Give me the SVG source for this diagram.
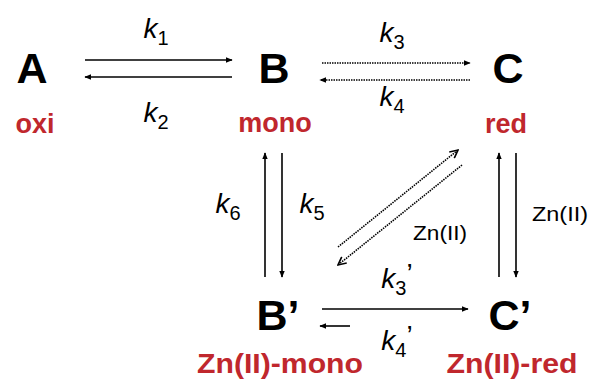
<svg xmlns="http://www.w3.org/2000/svg" width="591" height="379" viewBox="0 0 591 379">
<style>
.big{font-family:"Liberation Sans",Arial,sans-serif;font-weight:bold;font-size:43px;fill:#000;text-anchor:middle}
.lab{font-family:"Liberation Sans",Arial,sans-serif;font-weight:bold;font-size:27px;fill:#C0272D;text-anchor:middle}
.k{font-family:"Liberation Sans",Arial,sans-serif;font-size:28px;fill:#000;text-anchor:middle}
.kk{font-style:italic}
.sub{font-size:20px}
.zn{font-family:"Liberation Sans",Arial,sans-serif;font-size:20px;fill:#000;text-anchor:middle}
.ln{stroke:#000;stroke-width:1.6;fill:none}
.dot{stroke:#000;stroke-width:1.6;fill:none;stroke-dasharray:1.5 1}
</style>
<defs>
<marker id="ah" viewBox="0 0 10 10" refX="9" refY="5" markerWidth="7" markerHeight="7" orient="auto" markerUnits="userSpaceOnUse">
<path d="M0,1 L10,5 L0,9 z" fill="#000"/>
</marker>
<marker id="oh" viewBox="0 0 10 10" refX="9" refY="5" markerWidth="10" markerHeight="10" orient="auto" markerUnits="userSpaceOnUse">
<path d="M1,1 L9,5 L1,9" fill="none" stroke="#000" stroke-width="1.6"/>
</marker>
</defs>
<rect width="591" height="379" fill="#fff"/>
<g id="nodeA"><text class="big" x="32" y="83">A</text><text class="lab" x="35" y="133">oxi</text></g>
<g id="nodeB"><text class="big" x="274" y="83">B</text><text class="lab" x="275" y="132">mono</text></g>
<g id="nodeC"><text class="big" x="508" y="83">C</text><text class="lab" x="506" y="133">red</text></g>
<g id="nodeB2"><text class="big" x="278" y="330">B’</text><text class="lab" x="280" y="373" textLength="166" lengthAdjust="spacingAndGlyphs">Zn(II)-mono</text></g>
<g id="nodeC2"><text class="big" x="510" y="330">C’</text><text class="lab" x="512" y="373" textLength="131" lengthAdjust="spacingAndGlyphs">Zn(II)-red</text></g>
<g id="connectors">
<line class="ln" x1="85" y1="60" x2="232" y2="60" marker-end="url(#ah)"/>
<line class="ln" x1="232" y1="77" x2="85" y2="77" marker-end="url(#ah)"/>
<line class="dot" x1="322" y1="63" x2="470" y2="63" marker-end="url(#ah)"/>
<line class="dot" x1="470" y1="80" x2="320" y2="80" marker-end="url(#ah)"/>
<line class="ln" x1="265" y1="277" x2="265" y2="153" marker-end="url(#ah)"/>
<line class="ln" x1="282" y1="153" x2="282" y2="277" marker-end="url(#ah)"/>
<line class="ln" x1="499" y1="277" x2="499" y2="153" marker-end="url(#ah)"/>
<line class="ln" x1="516" y1="153" x2="516" y2="277" marker-end="url(#ah)"/>
<line class="dot" x1="338" y1="247" x2="458" y2="150" marker-end="url(#oh)"/>
<line class="dot" x1="462" y1="165" x2="338" y2="265" marker-end="url(#oh)"/>
<line class="ln" x1="322" y1="309" x2="468" y2="309" marker-end="url(#ah)"/>
<line class="ln" x1="350" y1="326" x2="320" y2="326" marker-end="url(#ah)"/>
</g>
<g id="labels">
<text class="k" x="156" y="38"><tspan class="kk">k</tspan><tspan class="sub" dy="7">1</tspan></text>
<text class="k" x="156" y="122"><tspan class="kk">k</tspan><tspan class="sub" dy="7">2</tspan></text>
<text class="k" x="392" y="42"><tspan class="kk">k</tspan><tspan class="sub" dy="7">3</tspan></text>
<text class="k" x="392" y="106"><tspan class="kk">k</tspan><tspan class="sub" dy="7">4</tspan></text>
<text class="k" x="228" y="213"><tspan class="kk">k</tspan><tspan class="sub" dy="7">6</tspan></text>
<text class="k" x="312" y="213"><tspan class="kk">k</tspan><tspan class="sub" dy="7">5</tspan></text>
<text class="k" x="397" y="288"><tspan class="kk">k</tspan><tspan class="sub" dy="7">3</tspan><tspan dy="-12">’</tspan></text>
<text class="k" x="397" y="350"><tspan class="kk">k</tspan><tspan class="sub" dy="7">4</tspan><tspan dy="-12">’</tspan></text>
<text class="zn" x="440" y="240" textLength="54" lengthAdjust="spacingAndGlyphs">Zn(II)</text>
<text class="zn" x="560" y="221" textLength="56" lengthAdjust="spacingAndGlyphs">Zn(II)</text>
</g>
</svg>
